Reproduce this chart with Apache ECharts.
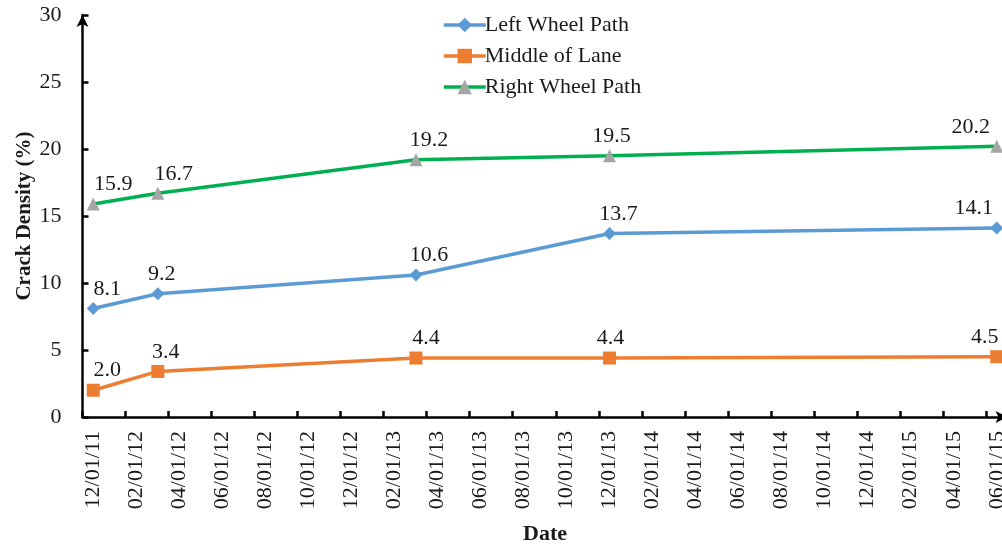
<!DOCTYPE html>
<html lang="en">
<head>
<meta charset="utf-8">
<script src="https://cdn.jsdelivr.net/npm/echarts@6/dist/echarts.min.js"></script>
<style>
    html, body { margin: 0; padding: 0; background: #fff; }
    #chart { width: 1002px; height: 544px; }
</style>
</head>
<body>
<div id="chart"></div>
<script>
    // month categories, one slot per month (labels shown every 2nd)
    var months = [
        '12/01/11', '01/01/12', '02/01/12', '03/01/12', '04/01/12', '05/01/12', '06/01/12',
        '07/01/12', '08/01/12', '09/01/12', '10/01/12', '11/01/12', '12/01/12',
        '01/01/13', '02/01/13', '03/01/13', '04/01/13', '05/01/13', '06/01/13',
        '07/01/13', '08/01/13', '09/01/13', '10/01/13', '11/01/13', '12/01/13',
        '01/01/14', '02/01/14', '03/01/14', '04/01/14', '05/01/14', '06/01/14',
        '07/01/14', '08/01/14', '09/01/14', '10/01/14', '11/01/14', '12/01/14',
        '01/01/15', '02/01/15', '03/01/15', '04/01/15', '05/01/15', '06/01/15'
    ];
    var surveyDates = ['12/01/11', '03/01/12', '03/01/13', '12/01/13', '06/01/15'];

    var leftWheel = [8.1, 9.2, 10.6, 13.7, 14.1];
    var middleLane = [2.0, 3.4, 4.4, 4.4, 4.5];
    var rightWheel = [15.9, 16.7, 19.2, 19.5, 20.2];

    // horizontal nudges of the value labels
    var leftDx = [14, 4, 13, 9, -23];
    var middleDx = [14, 8, 10, 1, -12];
    var rightDx = [20, 16, 13, 2, -26];

    var FONT = 'Liberation Serif';
    var TXT = '#1a1a1a';

    function buildData(vals, dx) {
        return vals.map(function (v, i) {
            return { value: [surveyDates[i], v], label: { offset: [dx[i], 0] } };
        });
    }

    function makeSeries(name, vals, dx, lineColor, markColor, symbol) {
        return {
            name: name,
            type: 'line',
            data: buildData(vals, dx),
            symbol: symbol,
            symbolSize: 13,
            lineStyle: { color: lineColor, width: 3.5 },
            itemStyle: { color: markColor },
            label: {
                show: true,
                position: 'top',
                distance: 2,
                fontFamily: FONT,
                fontSize: 22,
                color: TXT,
                formatter: function (p) { return p.value[1].toFixed(1); }
            }
        };
    }

    var chart = echarts.init(document.getElementById('chart'));
    chart.setOption({
        animation: false,
        textStyle: { fontFamily: FONT },
        grid: { left: 82.5, right: -5.5, top: 15, bottom: 127, containLabel: false, outerBoundsMode: 'none' },
        legend: {
            orient: 'vertical',
            left: 437,
            top: 9,
            itemWidth: 42,
            itemHeight: 18,
            itemGap: 9,
            lineStyle: { width: 3.5 },
            textStyle: { fontFamily: FONT, fontSize: 22, color: TXT, padding: [0, 0, 0, -6] },
            data: ['Left Wheel Path', 'Middle of Lane', 'Right Wheel Path']
        },
        xAxis: {
            type: 'category',
            data: months,
            boundaryGap: true,
            name: 'Date',
            nameLocation: 'middle',
            nameGap: 106,
            nameMoveOverlap: false,
            nameTextStyle: { fontFamily: FONT, fontSize: 22, fontWeight: 'bold', color: TXT },
            axisLine: {
                lineStyle: { color: '#000', width: 2.5 },
                symbol: ['none', 'arrow'],
                symbolSize: [9, 12]
            },
            axisTick: { show: true, inside: true, length: 6, interval: 1, lineStyle: { color: '#000', width: 2.5 } },
            axisLabel: { interval: 1, rotate: 90, margin: 14, fontFamily: FONT, fontSize: 22, color: TXT },
            splitLine: { show: false }
        },
        yAxis: {
            type: 'value',
            min: 0,
            max: 30,
            interval: 5,
            name: 'Crack Density (%)',
            nameLocation: 'middle',
            nameGap: 47,
            nameMoveOverlap: false,
            nameTextStyle: { fontFamily: FONT, fontSize: 21, fontWeight: 'bold', color: TXT },
            axisLine: {
                show: true,
                lineStyle: { color: '#000', width: 2.5 },
                symbol: ['none', 'arrow'],
                symbolSize: [9, 12]
            },
            axisTick: { show: true, inside: true, length: 6, lineStyle: { color: '#000', width: 2.5 } },
            axisLabel: { margin: 21, fontFamily: FONT, fontSize: 22, color: TXT },
            splitLine: { show: false }
        },
        series: [
            makeSeries('Left Wheel Path', leftWheel, leftDx, '#5B9BD5', '#5B9BD5', 'diamond'),
            makeSeries('Middle of Lane', middleLane, middleDx, '#ED7D31', '#ED7D31', 'rect'),
            makeSeries('Right Wheel Path', rightWheel, rightDx, '#00B050', '#A5A5A5', 'triangle')
        ]
    });
</script>
</body>
</html>
